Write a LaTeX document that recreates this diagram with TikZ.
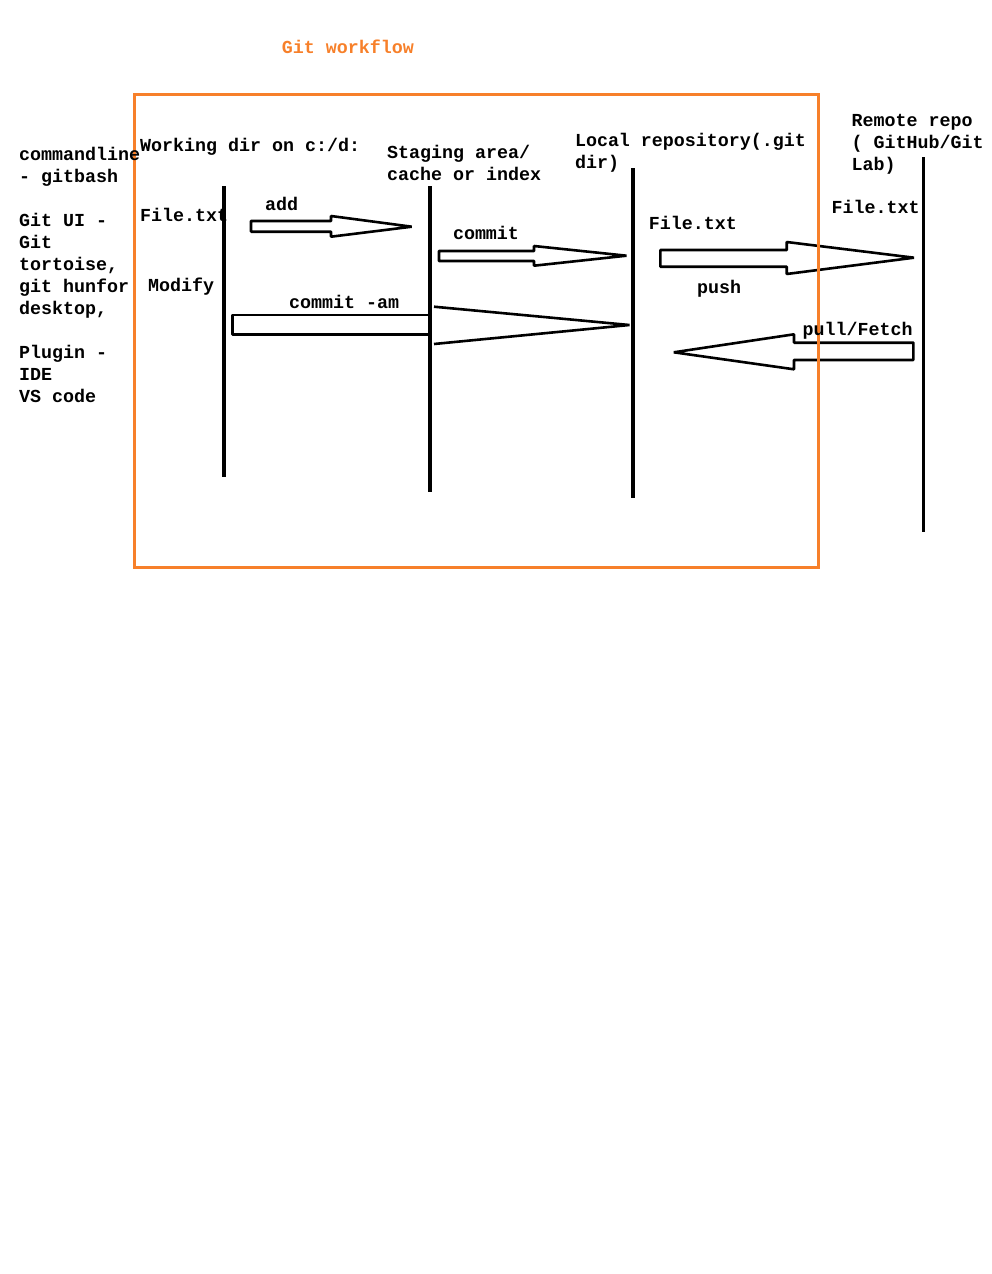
\documentclass[tikz,border=0pt]{standalone}
\usepackage{fontspec}
\setmonofont{Liberation Mono}
\definecolor{gitorange}{RGB}{247,128,42}

\begin{document}
\begin{tikzpicture}[x=1pt, y=-1pt,
    txt/.style={anchor=base west, inner sep=0pt, align=left,
      font=\ttfamily\bfseries\fontsize{18.33}{22}\selectfont},
    lane/.style={line width=4pt},
    blockarrow/.style={line width=2.6pt, line join=bevel}]
  \useasboundingbox (0,0) rectangle (991,1274);

  % lanes: working dir, staging, local repo, remote repo
  \coordinate (WT) at (224,186);  \coordinate (WB) at (224,477);
  \coordinate (ST) at (430,186);  \coordinate (SB) at (430,492);
  \coordinate (LT) at (633,168);  \coordinate (LB) at (633,498);
  \coordinate (RT) at (923,157);  \coordinate (RB) at (923,532);
  \draw[lane] (WT) -- (WB);
  \draw[lane] (ST) -- (SB);
  \draw[lane] (LT) -- (LB);
  \draw[lane, line width=3pt] (RT) -- (RB);

  % block arrows
  \draw[blockarrow] (251,221) -- (331,221) -- (331,216) -- (411.7,226.7)
    -- (331,236.7) -- (331,231.7) -- (251,231.7) -- cycle;
  \draw[blockarrow] (439,251) -- (534,251) -- (534,246) -- (626.5,255.7)
    -- (534,265.7) -- (534,261) -- (439,261) -- cycle;
  \draw[blockarrow] (660.3,250) -- (786.7,250) -- (786.7,242) -- (914,257.7)
    -- (786.7,274) -- (786.7,266.7) -- (660.3,266.7) -- cycle;
  \draw[blockarrow] (430,315) -- (232.7,315) -- (232.7,334.3) -- (430,334.3);
  \draw[blockarrow] (434,306.7) -- (629.4,325) -- (434,344);
  \draw[blockarrow] (913.4,342.7) -- (794,342.7) -- (794,334.3) -- (673.8,352.3)
    -- (794,369.3) -- (794,360) -- (913.4,360) -- cycle;

  % frame
  \draw[gitorange, line width=2.7pt] (134.7,94.7) rectangle (818.7,567.5);

  % labels (multi-line nodes sit on their last baseline)
  \node[txt, text=gitorange] (title) at (281.7,53) {Git workflow};
  \node[txt] (tools) at (19,402) {commandline\\- gitbash\\[22pt]Git UI -\\Git\\tortoise,\\git hunfor\\desktop,\\[22pt]Plugin -\\IDE\\VS code};
  \node[txt] (wdir)   at (140,151)   {Working dir on c:/d:};
  \node[txt] (stage)  at (387,180.3) {Staging area/\\cache or index};
  \node[txt] (local)  at (574.8,168.7) {Local repository(.git\\dir)};
  \node[txt] (remote) at (851.5,170.7) {Remote repo\\( GitHub/Git\\Lab)};
  \node[txt] (wfile)  at (140,221)   {File.txt};
  \node[txt] (modify) at (148,291)   {Modify};
  \node[txt] (add)    at (265,210.7) {add};
  \node[txt] (commit) at (452.8,239.5) {commit};
  \node[txt] (commitam) at (289,308.3) {commit -am};
  \node[txt] (lfile)  at (648.7,229.3) {File.txt};
  \node[txt] (push)   at (696.8,293) {push};
  \node[txt] (rfile)  at (831.5,213.3) {File.txt};
  \node[txt] (pull)   at (802.4,335) {pull/Fetch};
\end{tikzpicture}
\end{document}
